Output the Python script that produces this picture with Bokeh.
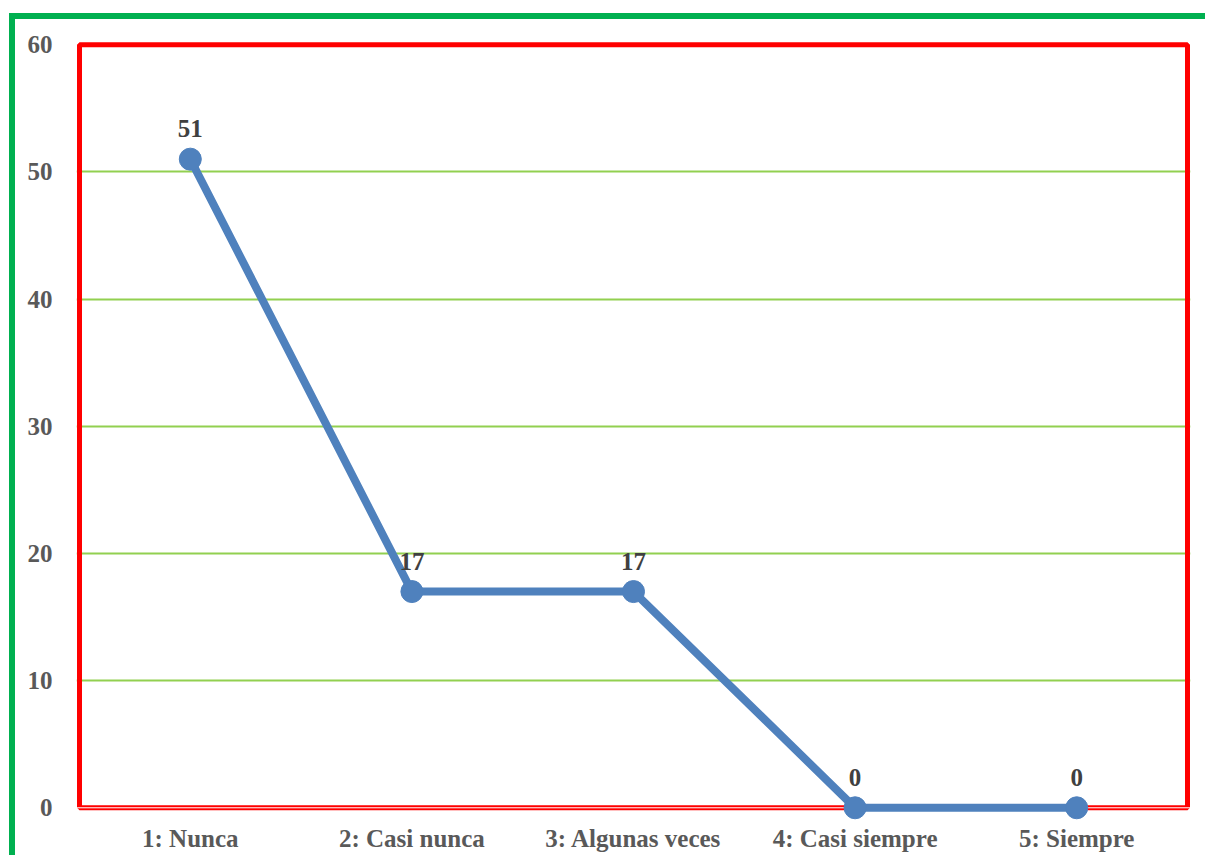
from bokeh.plotting import figure
from bokeh.models import (ColumnDataSource, FactorRange, Range1d, LabelSet, BoxAnnotation,
                          FixedTicker, Span, InlineStyleSheet)
from bokeh.embed import file_html
from bokeh.resources import INLINE

categories = ["1: Nunca", "2: Casi nunca", "3: Algunas veces", "4: Casi siempre", "5: Siempre"]
values = [51, 17, 17, 0, 0]
y_ticks = [0, 10, 20, 30, 40, 50, 60]
grid_ticks = [10, 20, 30, 40, 50]

FONT = "Liberation Serif"

src = ColumnDataSource(dict(x=categories, y=values, lbl=[str(v) for v in values]))

p = figure(x_range=FactorRange(*categories, range_padding=0.0135, range_padding_units="absolute"),
           y_range=Range1d(-1, 60.25),
           frame_width=1114, frame_height=779,
           min_border_left=76, min_border_right=15, min_border_top=41, min_border_bottom=35,
           output_backend="svg", toolbar_location=None, tools="")
p.outline_line_color = None
p.background_fill_color = "white"
p.border_fill_color = "white"

# green outer border (chart-area border, cut by the window edge)
p.stylesheets = [InlineStyleSheet(css="""
:host::after {
  content: '';
  position: absolute;
  left: 9px; top: 13px;
  width: 1196px; height: 842px;
  box-sizing: border-box;
  border-left: 6px solid #00B050;
  border-top: 6px solid #00B050;
  pointer-events: none;
  z-index: 10;
}
""")]

# grid
p.xgrid.grid_line_color = None
p.ygrid.ticker = FixedTicker(ticks=grid_ticks)
p.ygrid.grid_line_color = "#92D050"
p.ygrid.grid_line_width = 2
p.yaxis.ticker = FixedTicker(ticks=y_ticks)

for ax in (p.xaxis[0], p.yaxis[0]):
    ax.axis_line_color = None
    ax.major_tick_line_color = None
    ax.minor_tick_line_color = None
    ax.major_tick_out = 0
    ax.major_tick_in = 0
    ax.minor_tick_out = 0
    ax.major_label_text_font = FONT
    ax.major_label_text_font_style = "bold"
    ax.major_label_text_font_size = "25px"
    ax.major_label_text_color = "#595959"
p.yaxis.major_label_standoff = 24
p.xaxis.major_label_standoff = 4

# red frame (y from 0 to 60, x over all categories)
frame = BoxAnnotation(left=0, right=len(categories), bottom=0, top=60,
                      fill_color=None, fill_alpha=0, line_color="#FF0000",
                      line_alpha=1, line_width=5, level="underlay")
p.add_layout(frame)
p.add_layout(Span(location=0, dimension="width", line_color="white", line_width=1, level="underlay"))

p.line("x", "y", source=src, line_color="#4F81BD", line_width=8)
p.scatter("x", "y", source=src, size=22, fill_color="#4F81BD", line_color="#4F81BD")

labels = LabelSet(x="x", y="y", text="lbl", source=src, y_offset=22, text_align="center",
                  text_baseline="alphabetic", text_font=FONT, text_font_style="bold",
                  text_font_size="25px", text_color="#404040")
p.add_layout(labels)

open("out.html", "w").write(file_html(p, INLINE))
